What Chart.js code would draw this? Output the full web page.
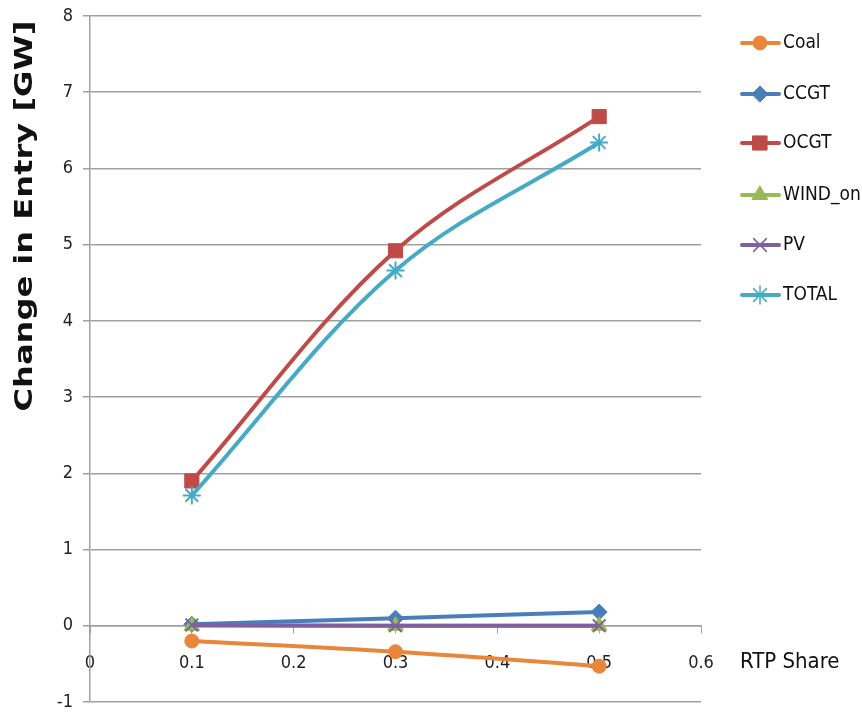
<!DOCTYPE html>
<html>
<head>
<meta charset="utf-8">
<script src="https://cdn.jsdelivr.net/npm/chart.js@4"></script>
<style>
  html, body { margin: 0; padding: 0; background: #fff; }
  #wrap { width: 862px; height: 713px; position: relative; }
</style>
</head>
<body>
<div id="wrap"><canvas id="entryChart"></canvas></div>
<script>
// RTP share on the x axis, change in entry (GW) for each technology
const rtpShare = [0.1, 0.3, 0.5];
const seriesNames = ['Coal', 'CCGT', 'OCGT', 'WIND_on', 'PV', 'TOTAL'];
const coal = [-0.2, -0.34, -0.53];
const ccgt = [0.02, 0.1, 0.18];
const ocgt = [1.9, 4.92, 6.68];
const windOn = [0, 0, 0];
const pv = [0.01, 0, 0];
const total = [1.71, 4.66, 6.34];

const yTitle = 'Change in Entry [GW]';
const xTitle = 'RTP Share';

const colors = ['#E8873A', '#4A7EBB', '#BE4B48', '#98B954', '#7D60A0', '#46AAC5'];
const markers = ['circle', 'rectRot', 'rect', 'triangle', 'crossRot', 'star'];
const radii = [7, 8, 10, 9, 9, 9];

const tickFont = '"DejaVu Sans Condensed", "DejaVu Sans", sans-serif';

const allValues = [coal, ccgt, ocgt, windOn, pv, total];
const datasets = allValues.map((vals, i) => ({
    label: seriesNames[i],
    data: vals.map((v, j) => ({ x: rtpShare[j], y: v })),
    borderColor: colors[i],
    backgroundColor: colors[i],
    borderWidth: 4,
    pointStyle: markers[i],
    pointRadius: radii[i],
    pointBorderWidth: markers[i] === 'crossRot' || markers[i] === 'star' ? 2 : 1,
    pointBorderColor: colors[i],
    pointBackgroundColor: colors[i],
    tension: 0.35,
    order: 6 - i
}));

// titles and the legend are drawn by hand, like the original
const extras = {
    id: 'extras',
    afterDraw(chart) {
        const ctx = chart.ctx;
        ctx.save();

        // y title, rotated, stretched to its original length
        ctx.translate(26, 216);
        ctx.rotate(-Math.PI / 2);
        ctx.font = 'bold 24px "DejaVu Sans", sans-serif';
        ctx.fillStyle = '#111';
        ctx.textAlign = 'center';
        ctx.textBaseline = 'middle';
        const w = ctx.measureText(yTitle).width;
        ctx.scale(391 / w, 1);
        ctx.fillText(yTitle, 0, 0);
        ctx.restore();

        ctx.save();
        ctx.font = '22px ' + tickFont;
        ctx.fillStyle = '#111';
        ctx.textBaseline = 'middle';
        ctx.fillText(xTitle, 740, 662);

        // legend
        const rows = [43, 94, 143, 195, 245, 295];
        ctx.font = '19px ' + tickFont;
        seriesNames.forEach((name, i) => {
            const y = rows[i];
            ctx.strokeStyle = colors[i];
            ctx.lineWidth = 4;
            ctx.lineCap = 'round';
            ctx.beginPath();
            ctx.moveTo(742, y);
            ctx.lineTo(779, y);
            ctx.stroke();
            ctx.fillStyle = colors[i];
            ctx.lineWidth = markers[i] === 'crossRot' || markers[i] === 'star' ? 1.5 : 1;
            Chart.helpers.drawPoint(ctx, { pointStyle: markers[i], radius: radii[i], rotation: 0, borderWidth: 1 }, 760, y);
            ctx.fillStyle = '#111';
            ctx.fillText(name, 783, y);
        });
        ctx.restore();
    }
};

new Chart(document.getElementById('entryChart'), {
    type: 'line',
    data: { datasets: datasets },
    options: {
        responsive: true,
        maintainAspectRatio: false,
        animation: false,
        layout: { padding: { top: 16, right: 161, bottom: 8, left: 0 } },
        plugins: { legend: { display: false }, tooltip: { enabled: false } },
        scales: {
            x: {
                type: 'linear',
                position: { y: 0 },
                min: 0,
                max: 0.6,
                afterFit: s => { s.paddingLeft = 0; s.paddingRight = 0; },
                ticks: {
                    stepSize: 0.1,
                    padding: 20,
                    color: '#222',
                    font: { family: tickFont, size: 18 },
                    callback: v => Math.round(v * 10) / 10
                },
                grid: { drawOnChartArea: false, drawTicks: true, tickLength: 7, color: '#a0a0a0' },
                border: { color: '#a0a0a0', width: 1.5 }
            },
            y: {
                min: -1,
                max: 8,
                afterFit: s => { s.width = 90; s.paddingTop = 0; s.paddingBottom = 0; },
                ticks: {
                    stepSize: 1,
                    padding: 10,
                    color: '#222',
                    font: { family: tickFont, size: 18 }
                },
                grid: { color: '#a0a0a0', lineWidth: 1.5, tickLength: 7 },
                border: { color: '#a0a0a0', width: 1.5 }
            }
        }
    },
    plugins: [extras]
});
</script>
</body>
</html>
